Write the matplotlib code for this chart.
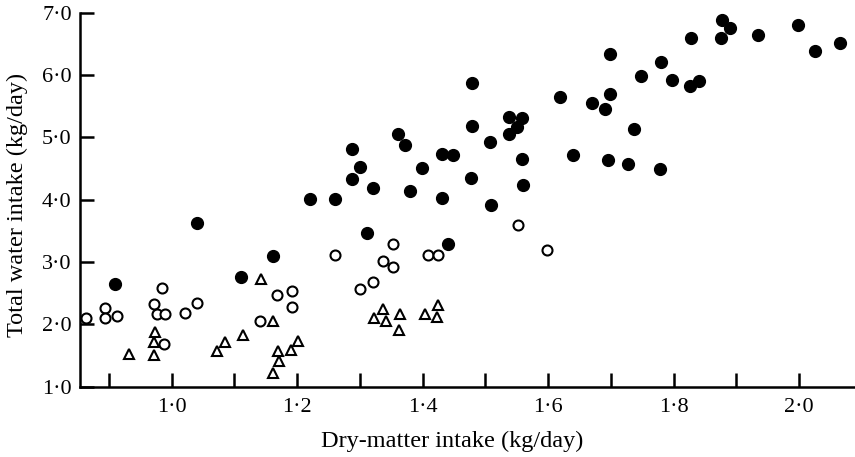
import numpy as np
import matplotlib
matplotlib.use('Agg')
import matplotlib.pyplot as plt
from matplotlib.ticker import FixedLocator, FuncFormatter

# filled circles
x_filled = [0.910, 1.040, 1.110, 1.162, 1.311, 1.441, 1.509, 1.220, 1.260, 1.287,
            1.288, 1.300, 1.320, 1.361, 1.372, 1.379, 1.399, 1.430, 1.449, 1.430,
            1.479, 1.478, 1.477, 1.507, 1.538, 1.559, 1.550, 1.538, 1.559, 1.560,
            1.619, 1.639, 1.670, 1.691, 1.698, 1.699, 1.695, 1.727, 1.737, 1.748,
            1.780, 1.778, 1.797, 1.826, 1.840, 1.828, 1.876, 1.877, 1.889, 1.934,
            1.998, 2.025, 2.065]
y_filled = [2.65, 3.62, 2.76, 3.10, 3.46, 3.29, 3.91, 4.01, 4.01, 4.33,
            4.82, 4.53, 4.18, 5.05, 4.87, 4.14, 4.51, 4.74, 4.72, 4.03,
            5.87, 5.18, 4.35, 4.92, 5.33, 5.31, 5.16, 5.05, 4.65, 4.23,
            5.65, 4.71, 5.55, 5.45, 5.70, 6.34, 4.64, 4.58, 5.13, 5.99,
            6.21, 4.49, 5.92, 5.82, 5.91, 6.59, 6.59, 6.89, 6.76, 6.64,
            6.80, 6.38, 6.51]

# open circles
x_open = [0.863, 0.894, 0.894, 0.912, 0.971, 0.984, 0.976, 0.990, 0.987, 1.021,
          1.040, 1.141, 1.168, 1.192, 1.192, 1.260, 1.300, 1.321, 1.336, 1.352,
          1.352, 1.409, 1.425, 1.552, 1.598]
y_open = [2.11, 2.26, 2.11, 2.13, 2.33, 2.58, 2.16, 2.17, 1.69, 2.18,
          2.34, 2.06, 2.47, 2.53, 2.28, 3.11, 2.57, 2.68, 3.02, 3.29,
          2.92, 3.11, 3.11, 3.60, 3.19]

# open triangles
x_tri = [0.932, 0.973, 0.972, 0.972, 1.072, 1.085, 1.113, 1.142, 1.162, 1.161,
         1.170, 1.171, 1.190, 1.202, 1.323, 1.336, 1.342, 1.364, 1.362, 1.403,
         1.424, 1.423]
y_tri = [1.53, 1.88, 1.72, 1.51, 1.57, 1.72, 1.83, 2.73, 2.06, 1.22,
         1.57, 1.41, 1.59, 1.73, 2.11, 2.24, 2.05, 2.16, 1.91, 2.17,
         2.31, 2.12]

x_major = [1.0, 1.2, 1.4, 1.6, 1.8, 2.0]
x_minor = [0.9, 1.1, 1.3, 1.5, 1.7, 1.9]
y_major = [1.0, 2.0, 3.0, 4.0, 5.0, 6.0, 7.0]

plt.rcParams['font.family'] = ['Liberation Serif', 'DejaVu Serif']

fig = plt.figure(figsize=(8.55, 4.57), dpi=100)
ax = fig.add_axes([0.0936, 0.1538, 0.9064, 0.8184])

ax.plot(x_filled, y_filled, 'o', color='black', markersize=8.5, linestyle='none')
ax.plot(x_open, y_open, 'o', markerfacecolor='white', markeredgecolor='black',
        markersize=7.2, markeredgewidth=1.5, linestyle='none')
ax.plot(x_tri, y_tri, '^', markerfacecolor='white', markeredgecolor='black',
        markersize=7.8, markeredgewidth=1.5, linestyle='none')

ax.set_xlim(0.8538, 2.089)
ax.set_ylim(1.0, 7.0)

ax.spines['top'].set_visible(False)
ax.spines['right'].set_visible(False)
ax.spines['left'].set_linewidth(1.8)
ax.spines['bottom'].set_linewidth(1.8)

fmt = FuncFormatter(lambda v, p: ('%.1f' % v).replace('.', '\u00b7'))
ax.xaxis.set_major_locator(FixedLocator(x_major))
ax.xaxis.set_minor_locator(FixedLocator(x_minor))
ax.yaxis.set_major_locator(FixedLocator(y_major))
ax.xaxis.set_major_formatter(fmt)
ax.yaxis.set_major_formatter(fmt)

ax.tick_params(axis='x', which='both', direction='in', length=10, width=1.8,
               labelsize=16, pad=8)
ax.tick_params(axis='y', which='both', direction='in', length=10, width=1.8,
               labelsize=16, pad=6)

ax.set_xlabel('Dry-matter intake (kg/day)', fontsize=17.5, labelpad=10, x=0.48)
ax.set_ylabel('Total water intake (kg/day)', fontsize=17.5, labelpad=10, y=0.485)

plt.savefig('out.png', dpi=100)
